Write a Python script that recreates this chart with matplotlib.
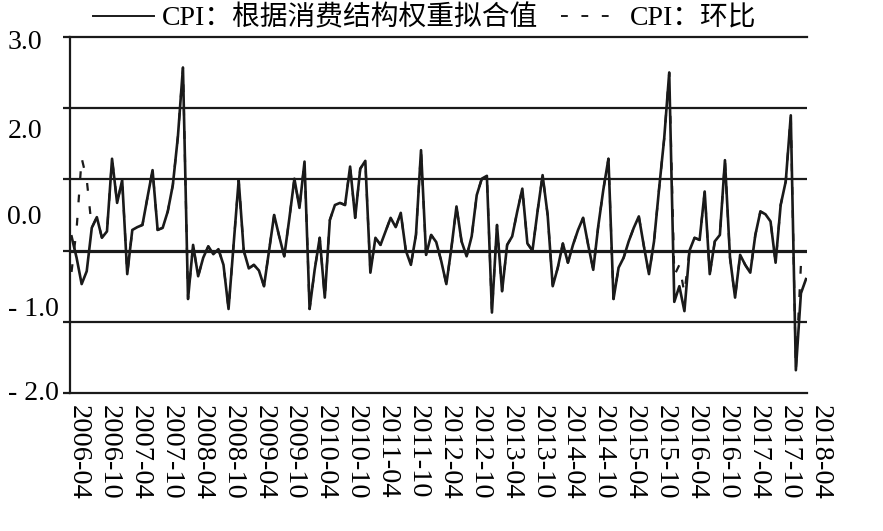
import matplotlib
matplotlib.use("Agg")
import matplotlib.pyplot as plt
import numpy as np

plt.rcParams['font.family'] = ['Liberation Serif', 'Noto Sans CJK SC']

# monthly values, 2006-04 .. 2018-05
cpi_fit = [
    0.20, -0.10, -0.47, -0.29, 0.32, 0.47, 0.18, 0.27, 1.29, 0.67,
    0.99, -0.33, 0.29, 0.33, 0.36, 0.75, 1.13, 0.29, 0.32, 0.55,
    0.92, 1.60, 2.57, -0.68, 0.08, -0.36, -0.10, 0.06, -0.05, 0.02,
    -0.20, -0.82, 0.08, 0.99, 0.00, -0.25, -0.20, -0.28, -0.50, 0.00,
    0.50, 0.20, -0.08, 0.45, 1.01, 0.60, 1.25, -0.82, -0.27, 0.18,
    -0.66, 0.43, 0.64, 0.67, 0.64, 1.18, 0.46, 1.15, 1.26, -0.31,
    0.18, 0.08, 0.27, 0.46, 0.33, 0.53, 0.00, -0.20, 0.22, 1.41,
    -0.06, 0.22, 0.12, -0.15, -0.47, 0.04, 0.62, 0.13, -0.08, 0.20,
    0.78, 1.01, 1.05, -0.87, 0.36, -0.57, 0.08, 0.20, 0.55, 0.87,
    0.10, 0.00, 0.55, 1.06, 0.50, -0.50, -0.24, 0.10, -0.17, 0.08,
    0.29, 0.46, 0.08, -0.27, 0.35, 0.86, 1.29, -0.68, -0.24, -0.10,
    0.13, 0.32, 0.48, 0.06, -0.33, 0.13, 0.87, 1.57, 2.50, -0.72,
    -0.50, -0.85, 0.00, 0.18, 0.15, 0.83, -0.33, 0.13, 0.22, 1.27,
    -0.10, -0.66, -0.06, -0.20, -0.31, 0.22, 0.55, 0.51, 0.41, -0.17,
    0.64, 0.97, 1.90, -1.68, -0.60, -0.40,
]

cpi_mom = [
    -0.30, 0.30, 1.30, 1.00, 0.32, 0.47, 0.18, 0.27, 1.29, 0.67,
    0.99, -0.33, 0.29, 0.33, 0.36, 0.75, 1.13, 0.29, 0.32, 0.55,
    0.92, 1.60, 2.57, -0.68, 0.08, -0.36, -0.10, 0.06, -0.05, 0.02,
    -0.20, -0.82, 0.08, 0.99, 0.00, -0.25, -0.20, -0.28, -0.50, 0.00,
    0.50, 0.20, -0.08, 0.45, 1.01, 0.60, 1.25, -0.82, -0.27, 0.18,
    -0.66, 0.43, 0.64, 0.67, 0.64, 1.18, 0.46, 1.15, 1.26, -0.31,
    0.18, 0.08, 0.27, 0.46, 0.33, 0.53, 0.00, -0.20, 0.22, 1.41,
    -0.06, 0.22, 0.12, -0.15, -0.47, 0.04, 0.62, 0.13, -0.08, 0.20,
    0.78, 1.01, 1.05, -0.87, 0.36, -0.57, 0.08, 0.20, 0.55, 0.87,
    0.10, 0.00, 0.55, 1.06, 0.50, -0.50, -0.24, 0.10, -0.17, 0.08,
    0.29, 0.46, 0.08, -0.27, 0.35, 0.86, 1.29, -0.68, -0.24, -0.10,
    0.13, 0.32, 0.48, 0.06, -0.33, 0.13, 0.87, 1.57, 2.50, -0.35,
    -0.20, -0.60, 0.00, 0.18, 0.15, 0.83, -0.33, 0.13, 0.22, 1.27,
    -0.10, -0.66, -0.06, -0.20, -0.31, 0.22, 0.55, 0.51, 0.41, -0.17,
    0.64, 0.97, 1.90, -1.68, -0.20, -0.20,
]

x_labels = ['2006-04', '2006-10', '2007-04', '2007-10', '2008-04', '2008-10',
            '2009-04', '2009-10', '2010-04', '2010-10', '2011-04', '2011-10',
            '2012-04', '2012-10', '2013-04', '2013-10', '2014-04', '2014-10',
            '2015-04', '2015-10', '2016-04', '2016-10', '2017-04', '2017-10',
            '2018-04']

y_labels = ['3.0', '2.0', '0.0', '- 1.0', '- 2.0']
y_label_pos = [2.96, 1.72, 0.50, -0.78, -1.96]

ink = '#1a1a1a'

fig = plt.figure(figsize=(8.83, 5.31), dpi=100)
ax = fig.add_axes([70 / 883, 1 - 393 / 531, 737 / 883, 356 / 531])

x = np.arange(len(cpi_fit))

for v in [-1, 1, 2]:
    ax.axhline(v, color=ink, lw=1.6, zorder=1)
ax.axhline(0, color=ink, lw=2.3, zorder=1)

l_mom, = ax.plot(x, cpi_mom, color=ink, lw=1.6, linestyle=(0, (3.5, 7)), zorder=2)
l_fit, = ax.plot(x, cpi_fit, color=ink, lw=1.9, zorder=3)

ax.set_xlim(-0.3, 145.2)
ax.set_ylim(-2, 3)

for s in ['top', 'bottom', 'left']:
    ax.spines[s].set_linewidth(1.6)
    ax.spines[s].set_color(ink)
ax.spines['right'].set_visible(False)

ax.set_xticks([])
ax.set_yticks(y_label_pos, y_labels)
ax.set_yticks([-2, -1, 0, 1, 2, 3], minor=True)
ax.tick_params(axis='y', which='major', length=0, pad=45, labelsize=20)
ax.tick_params(axis='y', which='minor', length=5, width=1.6, color=ink, direction='out')
for lbl in ax.get_yticklabels():
    lbl.set_horizontalalignment('left')

for k, lab in enumerate(x_labels):
    ax.text(1.38 + 6.098 * k, -0.034, lab, transform=ax.get_xaxis_transform(),
            rotation=-90, ha='center', va='top', fontsize=20.5, clip_on=False)

leg = fig.legend([l_fit, l_mom], ['CPI：根据消费结构权重拟合值', 'CPI：环比'],
                 loc='center', bbox_to_anchor=(0.481, 0.966), ncol=2, frameon=False,
                 fontsize=20, handlelength=2.2, handletextpad=0.3, columnspacing=0.8)
for h in leg.legend_handles:
    h.set_linewidth(1.4)

fig.savefig('out.png', dpi=100)
